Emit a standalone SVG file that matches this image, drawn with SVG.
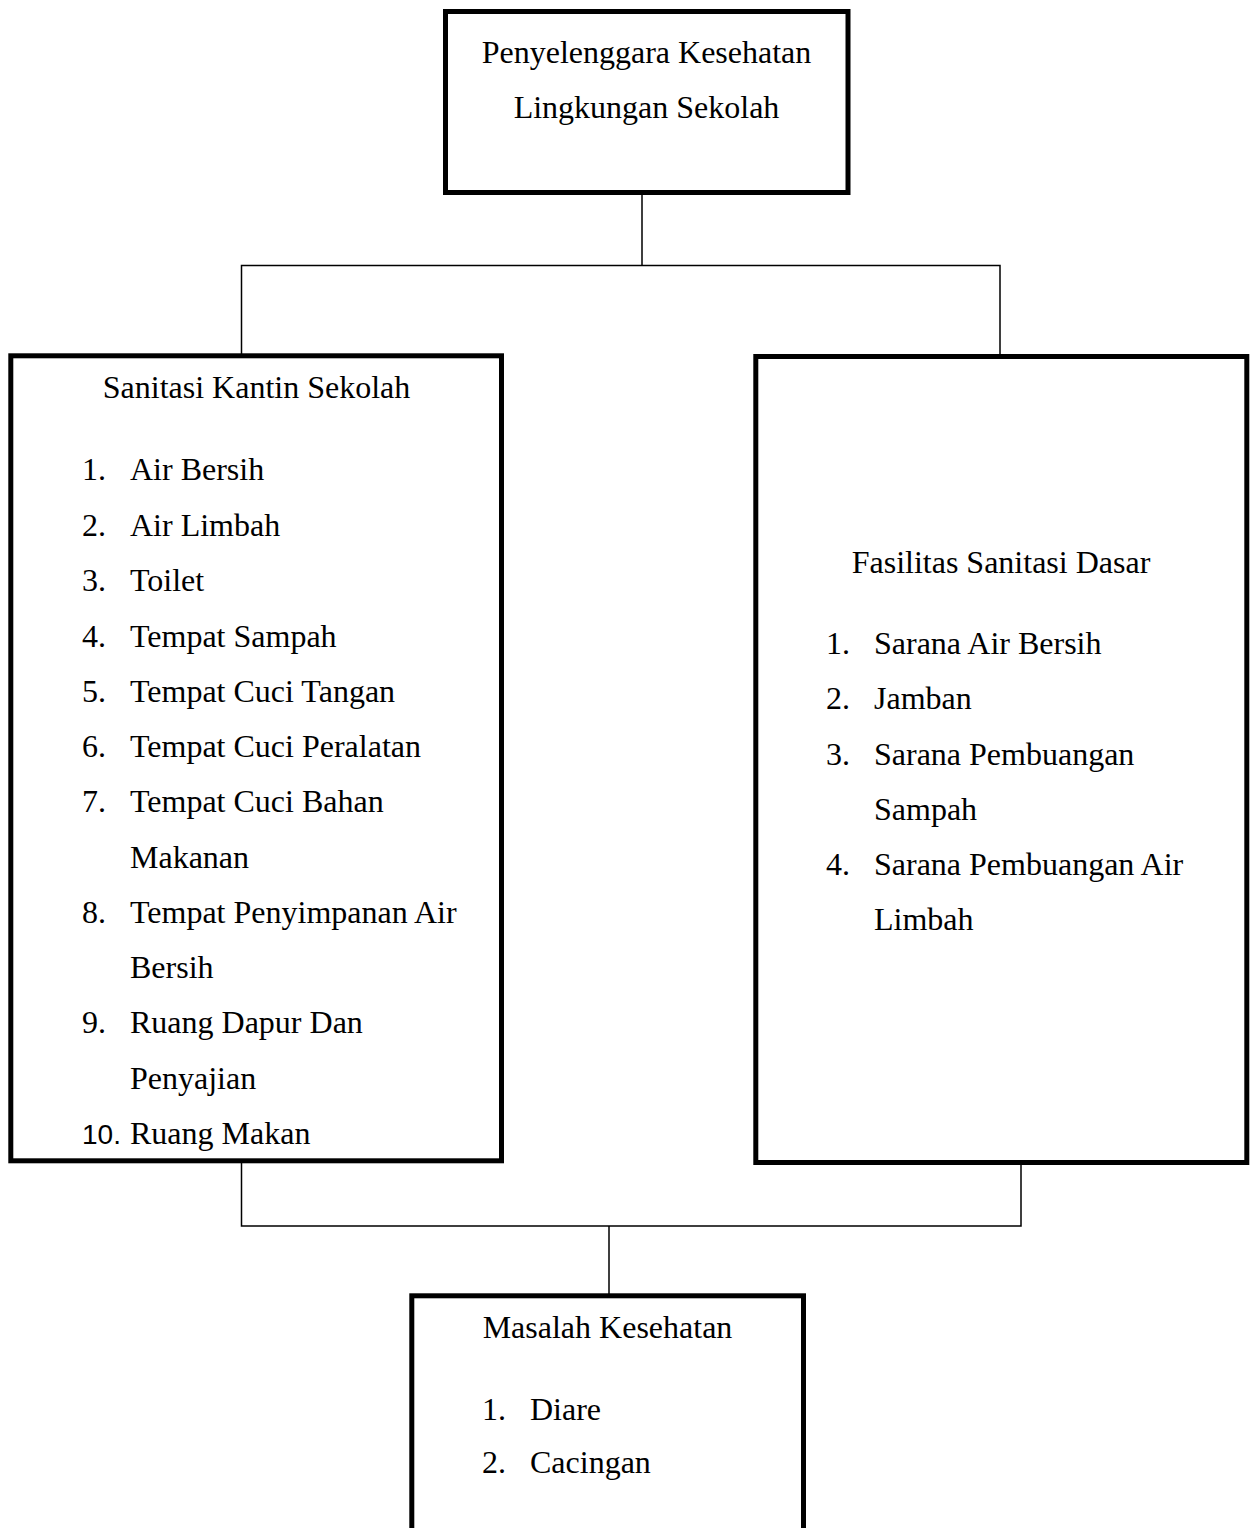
<svg xmlns="http://www.w3.org/2000/svg" width="1254" height="1528" viewBox="0 0 1254 1528">
<style>
.box{fill:#fff;stroke:#000;stroke-width:5}
.con{fill:none;stroke:#000;stroke-width:1.5}
text{font-family:"Liberation Serif","Times New Roman",serif;font-size:32px;fill:#000}
.c{text-anchor:middle}
.sans{font-family:"Liberation Sans",Arial,sans-serif;font-size:28px}
</style>
<rect width="1254" height="1528" fill="#fff"/>
<g id="connectors">
<path class="con" d="M642 193 V265.5 M241.5 356 V265.5 H1000 V356"/>
<path class="con" d="M241.5 1161 V1226 H1021 V1162 M609 1226 V1294"/>
</g>
<g id="node-top">
<rect class="box" x="445.5" y="11.5" width="402.5" height="181"/>
<text class="c" x="646.5" y="63">Penyelenggara Kesehatan</text>
<text class="c" x="646.5" y="118">Lingkungan Sekolah</text>
</g>
<g id="node-kantin">
<rect class="box" x="10.8" y="355.8" width="490.7" height="805"/>
<text class="c" x="256.5" y="398">Sanitasi Kantin Sekolah</text>
<text x="82" y="480">1.</text><text x="130" y="480">Air Bersih</text>
<text x="82" y="536">2.</text><text x="130" y="536">Air Limbah</text>
<text x="82" y="591">3.</text><text x="130" y="591">Toilet</text>
<text x="82" y="647">4.</text><text x="130" y="647">Tempat Sampah</text>
<text x="82" y="702">5.</text><text x="130" y="702">Tempat Cuci Tangan</text>
<text x="82" y="757">6.</text><text x="130" y="757">Tempat Cuci Peralatan</text>
<text x="82" y="812">7.</text><text x="130" y="812">Tempat Cuci Bahan</text>
<text x="130" y="868">Makanan</text>
<text x="82" y="923">8.</text><text x="130" y="923">Tempat Penyimpanan Air</text>
<text x="130" y="978">Bersih</text>
<text x="82" y="1033">9.</text><text x="130" y="1033">Ruang Dapur Dan</text>
<text x="130" y="1089">Penyajian</text>
<text class="sans" x="82" y="1144">10.</text><text x="130" y="1144">Ruang Makan</text>
</g>
<g id="node-fasilitas">
<rect class="box" x="755.8" y="356.5" width="491" height="806"/>
<text class="c" x="1001" y="573">Fasilitas Sanitasi Dasar</text>
<text x="826" y="654">1.</text><text x="874" y="654">Sarana Air Bersih</text>
<text x="826" y="709">2.</text><text x="874" y="709">Jamban</text>
<text x="826" y="765">3.</text><text x="874" y="765">Sarana Pembuangan</text>
<text x="874" y="820">Sampah</text>
<text x="826" y="875">4.</text><text x="874" y="875">Sarana Pembuangan Air</text>
<text x="874" y="930">Limbah</text>
</g>
<g id="node-masalah">
<rect class="box" x="411.8" y="1295.8" width="391.7" height="260"/>
<text class="c" x="607.5" y="1338">Masalah Kesehatan</text>
<text x="482" y="1420">1.</text><text x="530" y="1420">Diare</text>
<text x="482" y="1473">2.</text><text x="530" y="1473">Cacingan</text>
</g>
</svg>
